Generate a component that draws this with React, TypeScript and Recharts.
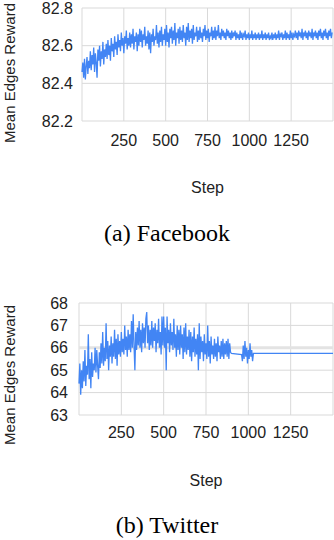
import { LineChart, Line, XAxis, YAxis, CartesianGrid, ReferenceLine } from 'recharts';

const BLUE = '#4285f4';
const GRID = '#d9d9d9';
const TEXT = '#222';
const SANS = '"Liberation Sans", Arial, sans-serif';
const SERIF = '"Liberation Serif", "Times New Roman", serif';

const STEP_TICKS = [250, 500, 750, 1000, 1250];
const FB_TICKS = [82.2, 82.4, 82.6, 82.8];
const TW_TICKS = [63, 64, 65, 66, 67, 68];

// Facebook: one reading every 5 steps, step 0 .. 1495 (one row = 50 steps)
const facebookReward = [
  82.46, 82.51, 82.43, 82.53, 82.42, 82.49, 82.54, 82.45, 82.52, 82.48,
  82.57, 82.47, 82.55, 82.5, 82.59, 82.46, 82.56, 82.51, 82.43, 82.58,
  82.52, 82.6, 82.49, 82.57, 82.53, 82.62, 82.5, 82.58, 82.54, 82.61,
  82.53, 82.63, 82.55, 82.6, 82.52, 82.64, 82.57, 82.61, 82.54, 82.65,
  82.58, 82.62, 82.55, 82.66, 82.59, 82.63, 82.57, 82.67, 82.6, 82.64,
  82.56, 82.65, 82.61, 82.68, 82.58, 82.64, 82.6, 82.67, 82.59, 82.66,
  82.61, 82.69, 82.58, 82.65, 82.62, 82.67, 82.57, 82.66, 82.6, 82.69,
  82.62, 82.68, 82.59, 82.66, 82.63, 82.7, 82.6, 82.65, 82.61, 82.68,
  82.58, 82.67, 82.56, 82.66, 82.62, 82.69, 82.6, 82.65, 82.63, 82.71,
  82.61, 82.67, 82.59, 82.68, 82.62, 82.7, 82.6, 82.66, 82.63, 82.69,
  82.6, 82.71, 82.62, 82.67, 82.59, 82.69, 82.64, 82.7, 82.61, 82.68,
  82.63, 82.72, 82.6, 82.67, 82.64, 82.69, 82.61, 82.7, 82.63, 82.68,
  82.62, 82.71, 82.64, 82.67, 82.6, 82.7, 82.63, 82.72, 82.62, 82.68,
  82.64, 82.69, 82.61, 82.71, 82.63, 82.67, 82.65, 82.7, 82.62, 82.68,
  82.63, 82.7, 82.64, 82.67, 82.62, 82.69, 82.65, 82.71, 82.63, 82.68,
  82.64, 82.69, 82.62, 82.67, 82.65, 82.7, 82.63, 82.68, 82.64, 82.7,
  82.63, 82.68, 82.65, 82.71, 82.64, 82.67, 82.63, 82.69, 82.65, 82.68,
  82.64, 82.67, 82.63, 82.69, 82.65, 82.68, 82.64, 82.67, 82.63, 82.68,
  82.64, 82.67, 82.65, 82.68, 82.63, 82.67, 82.64, 82.66, 82.63, 82.68,
  82.64, 82.67, 82.63, 82.66, 82.65, 82.68, 82.63, 82.66, 82.64, 82.67,
  82.63, 82.66, 82.64, 82.68, 82.63, 82.66, 82.64, 82.67, 82.63, 82.66,
  82.64, 82.67, 82.63, 82.66, 82.64, 82.68, 82.63, 82.66, 82.64, 82.67,
  82.63, 82.66, 82.64, 82.67, 82.63, 82.65, 82.64, 82.67, 82.63, 82.66,
  82.64, 82.67, 82.63, 82.66, 82.64, 82.68, 82.63, 82.66, 82.65, 82.67,
  82.63, 82.66, 82.64, 82.68, 82.63, 82.67, 82.64, 82.66, 82.63, 82.68,
  82.64, 82.67, 82.63, 82.66, 82.65, 82.68, 82.64, 82.67, 82.63, 82.68,
  82.65, 82.67, 82.64, 82.69, 82.63, 82.67, 82.65, 82.68, 82.64, 82.67,
  82.63, 82.68, 82.65, 82.67, 82.64, 82.69, 82.63, 82.67, 82.65, 82.68,
  82.64, 82.67, 82.63, 82.68, 82.65, 82.69, 82.64, 82.67, 82.63, 82.68,
  82.65, 82.69, 82.64, 82.67, 82.63, 82.68, 82.65, 82.69, 82.64, 82.67,
];

// Twitter: one reading every 5 steps, step 0 .. 900 (one row = 50 steps)
const twitterReward = [
  64.4, 65.3, 63.9, 65.0, 64.2, 65.4, 64.5, 65.9, 64.3, 65.2,
  64.8, 66.6, 64.6, 65.5, 64.2, 65.8, 64.7, 65.3, 65.0, 66.0,
  64.9, 65.9, 65.2, 64.6, 65.8, 65.1, 66.2, 65.3, 66.7, 65.2,
  66.0, 65.4, 67.1, 65.5, 66.3, 65.0, 66.1, 65.6, 66.5, 65.3,
  66.2, 65.6, 66.8, 65.5, 66.4, 65.2, 66.6, 65.7, 66.3, 65.6,
  66.7, 65.8, 66.4, 65.7, 67.0, 65.9, 66.5, 65.6, 66.8, 65.9,
  66.6, 65.8, 67.2, 66.0, 67.5, 66.1, 65.0, 66.7, 65.9, 66.9,
  66.1, 67.2, 66.0, 66.8, 65.8, 67.1, 66.2, 66.9, 66.0, 67.3,
  67.6, 66.2, 67.0, 65.9, 66.8, 66.1, 67.2, 66.0, 66.9, 66.3,
  67.1, 65.8, 66.8, 66.2, 67.3, 66.0, 66.7, 65.7, 67.4, 66.1,
  67.4, 66.0, 66.9, 65.0, 67.4, 66.2, 66.8, 65.8, 67.1, 66.1,
  66.7, 65.9, 67.3, 66.0, 66.6, 65.6, 67.0, 65.9, 66.8, 65.7,
  67.0, 66.0, 66.6, 65.5, 66.9, 65.8, 67.1, 65.7, 66.5, 65.9,
  66.8, 65.6, 66.7, 65.4, 66.5, 65.8, 66.9, 65.6, 66.4, 65.7,
  66.6, 65.0, 67.1, 65.5, 66.5, 65.8, 66.3, 65.4, 66.6, 65.7,
  66.2, 65.5, 67.0, 65.6, 66.3, 65.3, 66.5, 65.7, 66.1, 65.5,
  66.4, 65.6, 66.2, 65.4, 66.5, 65.8, 66.1, 65.5, 66.3, 65.6,
  66.4, 65.5, 66.2, 65.7, 66.3, 65.6, 66.4, 65.5, 66.2, 65.8,
  65.75,
];

// Twitter after the gap: short burst, then flat to the end
const twitterTailSteps = [960, 965, 970, 975, 980, 985, 990, 995, 1000, 1005, 1010, 1015, 1020, 1025, 1030, 1500];
const twitterTailReward = [65.7, 65.4, 66.1, 65.5, 66.3, 65.6, 66.0, 65.3, 65.9, 65.5, 66.2, 65.6, 65.9, 65.4, 65.75, 65.75];

const facebookData = facebookReward.map((reward, i) => ({ step: i * 5, reward }));
const twitterData = [
  ...twitterReward.map((reward, i) => ({ step: i * 5, reward })),
  ...twitterTailSteps.map((step, i) => ({ step, reward: twitterTailReward[i] })),
];

const tickStyle = { fontSize: 16, fontFamily: SANS, fill: TEXT };

const YTitle = ({ x, y }: { x: number; y: number }) => (
  <div
    style={{
      position: 'absolute',
      left: x,
      top: y,
      transform: 'translate(-50%, -50%) rotate(-90deg)',
      whiteSpace: 'nowrap',
      fontSize: 15,
      lineHeight: 1,
      fontFamily: SANS,
      color: TEXT,
    }}
  >
    Mean Edges Reward
  </div>
);

const Caption = ({ y, text }: { y: number; text: string }) => (
  <div
    style={{
      position: 'absolute',
      left: 167,
      top: y,
      transform: 'translate(-50%, -50%)',
      whiteSpace: 'nowrap',
      fontSize: 24,
      lineHeight: 1,
      fontFamily: SERIF,
      color: '#000',
    }}
  >
    {text}
  </div>
);

export default function App() {
  return (
    <div style={{ position: 'absolute', left: 0, top: 0, width: 334, height: 540, background: '#fff' }}>
      <div style={{ position: 'absolute', left: 0, top: 0 }}>
        <LineChart width={334} height={200} data={facebookData} margin={{ top: 8, right: 1, bottom: 0, left: 0 }}>
          <CartesianGrid stroke={GRID} />
          <XAxis
            type="number"
            dataKey="step"
            domain={[0, 1500]}
            ticks={STEP_TICKS}
            interval={0}
            height={79}
            tickSize={0}
            tickMargin={14}
            axisLine={false}
            tick={tickStyle}
            label={{ value: 'Step', position: 'insideBottom', offset: 7, fontSize: 16, fontFamily: SANS, fill: TEXT }}
          />
          <YAxis
            type="number"
            domain={[82.2, 82.8]}
            ticks={FB_TICKS}
            interval={0}
            width={82}
            tickSize={0}
            tickMargin={9}
            axisLine={false}
            tick={tickStyle}
            tickFormatter={(v: number) => v.toFixed(1)}
          />
          <Line type="linear" dataKey="reward" stroke={BLUE} strokeWidth={1.3} dot={false} isAnimationActive={false} />
        </LineChart>
      </div>
      <YTitle x={9} y={73} />
      <Caption y={233} text="(a) Facebook" />

      <div style={{ position: 'absolute', left: 0, top: 290 }}>
        <LineChart width={334} height={200} data={twitterData} margin={{ top: 13, right: 1, bottom: 0, left: 0 }}>
          <CartesianGrid stroke={GRID} />
          <XAxis
            type="number"
            dataKey="step"
            domain={[0, 1500]}
            ticks={STEP_TICKS}
            interval={0}
            height={75}
            tickSize={0}
            tickMargin={12}
            axisLine={false}
            tick={tickStyle}
            label={{ value: 'Step', position: 'insideBottom', offset: 4, fontSize: 16, fontFamily: SANS, fill: TEXT }}
          />
          <YAxis
            type="number"
            domain={[63, 68]}
            ticks={TW_TICKS}
            interval={0}
            width={79}
            tickSize={0}
            tickMargin={11}
            axisLine={false}
            tick={tickStyle}
          />
          <ReferenceLine y={66} stroke="#e3e3e3" strokeWidth={3} />
          <Line type="linear" dataKey="reward" stroke={BLUE} strokeWidth={1.3} dot={false} isAnimationActive={false} />
        </LineChart>
      </div>
      <YTitle x={9} y={375} />
      <Caption y={525} text="(b) Twitter" />
    </div>
  );
}
